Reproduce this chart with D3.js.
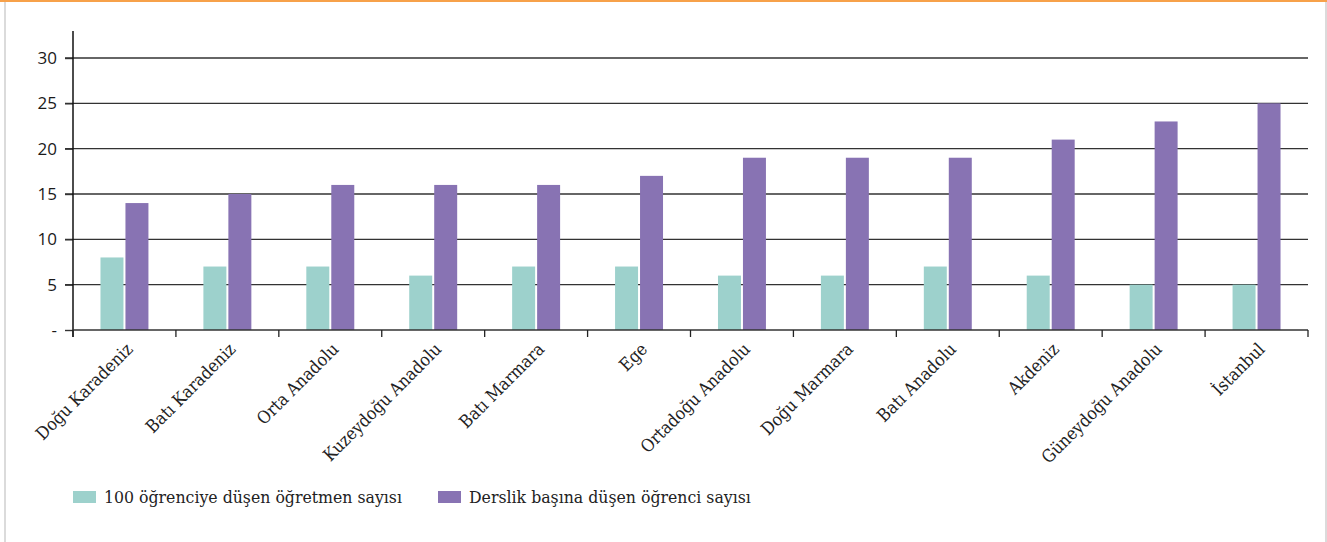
<!DOCTYPE html>
<html>
<head>
<meta charset="utf-8">
<script src="https://cdn.jsdelivr.net/npm/d3@7"></script>
<style>
  body { margin: 0; background: #fff; }
  svg { display: block; }
</style>
</head>
<body>
<div id="chart"></div>
<script>
// regions (x axis)
var regions = ["Doğu Karadeniz", "Batı Karadeniz", "Orta Anadolu", "Kuzeydoğu Anadolu", "Batı Marmara", "Ege",
    "Ortadoğu Anadolu", "Doğu Marmara", "Batı Anadolu", "Akdeniz", "Güneydoğu Anadolu", "İstanbul"];
var teachersPer100 = [8, 7, 7, 6, 7, 7, 6, 6, 7, 6, 5, 5];
var studentsPerClass = [14, 15, 16, 16, 16, 17, 19, 19, 19, 21, 23, 25];
var seriesNames = ["100 öğrenciye düşen öğretmen sayısı", "Derslik başına düşen öğrenci sayısı"];
var yTicks = [0, 5, 10, 15, 20, 25, 30];

var teal = "#9dd1cc";
var purple = "#8873b3";

var width = 1327, height = 542;
var margin = {top: 58, right: 19, bottom: 212, left: 73};
var plotW = width - margin.left - margin.right;
var plotH = height - margin.top - margin.bottom;

var svg = d3.select("#chart").append("svg")
    .attr("width", width)
    .attr("height", height);

// frame round the figure
svg.append("line").attr("x1", 0).attr("x2", width).attr("y1", 1).attr("y2", 1)
    .style("stroke", "#f7a14a").style("stroke-width", 2);
svg.append("line").attr("x1", 5).attr("x2", 5).attr("y1", 2).attr("y2", height)
    .style("stroke", "#cfcfcf").style("stroke-width", 1.5);
svg.append("line").attr("x1", 1326).attr("x2", 1326).attr("y1", 2).attr("y2", height)
    .style("stroke", "#cfcfcf").style("stroke-width", 1.5);

var g = svg.append("g")
    .attr("transform", "translate(" + margin.left + "," + margin.top + ")");

var x0 = d3.scaleBand().domain(regions).range([0, plotW]);
var x1 = d3.scaleBand().domain([0, 1]).range([0, x0.bandwidth()])
    .paddingInner(0.08).paddingOuter(1.1);
var y = d3.scaleLinear().domain([0, 30]).range([plotH, 0]);

// gridlines
g.selectAll(".grid").data(yTicks.slice(1))
    .join("line")
    .attr("class", "grid")
    .attr("x1", -8).attr("x2", plotW)
    .attr("y1", d => y(d)).attr("y2", d => y(d))
    .style("stroke", "#333").style("stroke-width", 1.4);

// y axis
var yAxis = g.append("g")
    .call(d3.axisLeft(y).tickValues(yTicks).tickSize(8).tickPadding(8)
        .tickFormat(d => d === 0 ? "-" : d));
yAxis.select(".domain").remove();
yAxis.selectAll("line").style("stroke", "#333").style("stroke-width", 1.4);
yAxis.selectAll("text").style("font-family", "'Open Sans', sans-serif")
    .style("font-size", "17px").style("fill", "#1a1a1a");
g.append("line").attr("x1", 0).attr("x2", 0).attr("y1", -27).attr("y2", plotH + 7)
    .style("stroke", "#111").style("stroke-width", 1.5);

// bars
var rows = regions.map(function(r, i) { return {region: r, vals: [teachersPer100[i], studentsPerClass[i]]}; });
var groups = g.selectAll(".region").data(rows)
    .join("g")
    .attr("class", "region")
    .attr("transform", d => "translate(" + x0(d.region) + ",0)");
groups.selectAll("rect").data(d => d.vals)
    .join("rect")
    .attr("x", (d, i) => x1(i))
    .attr("width", x1.bandwidth())
    .attr("y", d => y(d))
    .attr("height", d => plotH - y(d))
    .attr("fill", (d, i) => i === 0 ? teal : purple);

// x axis
g.append("line").attr("x1", 0).attr("x2", plotW).attr("y1", plotH).attr("y2", plotH)
    .style("stroke", "#333").style("stroke-width", 1.5);
var edges = regions.map(r => x0(r)).concat([plotW]);
g.selectAll(".xtick").data(edges)
    .join("line")
    .attr("class", "xtick")
    .attr("x1", d => d).attr("x2", d => d)
    .attr("y1", plotH).attr("y2", plotH + 7)
    .style("stroke", "#222").style("stroke-width", 1.3);

g.selectAll(".xlabel").data(regions)
    .join("text")
    .attr("class", "xlabel")
    .attr("transform", d => "translate(" + (x0(d) + x0.bandwidth() / 2 + 5) + "," + (plotH + 16) + ") rotate(-45)")
    .attr("text-anchor", "end")
    .attr("dy", "0.35em")
    .style("font-family", "'DejaVu Serif Condensed', 'Liberation Serif', serif")
    .style("font-size", "17.5px")
    .style("fill", "#222")
    .text(d => d);

// legend
var legendX = [73, 438];
var legend = svg.selectAll(".legend").data(seriesNames)
    .join("g")
    .attr("class", "legend")
    .attr("transform", (d, i) => "translate(" + legendX[i] + ",491)");
legend.append("rect")
    .attr("width", 23).attr("height", 12)
    .attr("fill", (d, i) => i === 0 ? teal : purple);
legend.append("text")
    .attr("x", 31).attr("y", 12)
    .style("font-family", "'DejaVu Serif Condensed', 'Liberation Serif', serif")
    .style("font-size", "17.5px")
    .style("fill", "#222")
    .text(d => d);
</script>
</body>
</html>
